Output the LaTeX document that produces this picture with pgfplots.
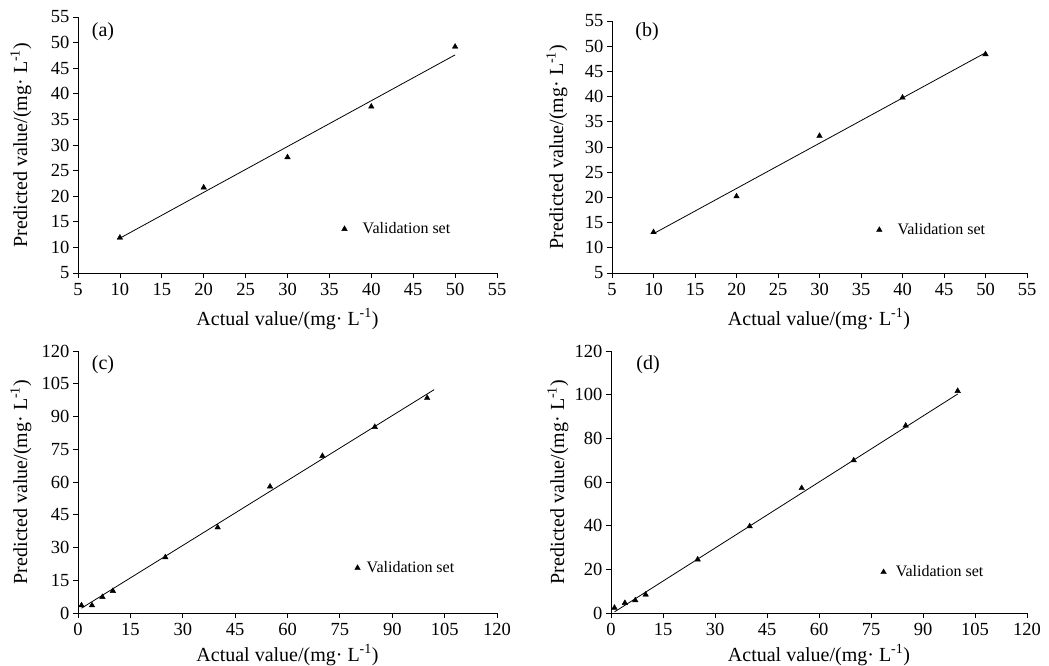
\documentclass[border=0pt]{standalone}
\usepackage{fontspec}
\setmainfont{Liberation Serif}
\usepackage{pgfplots}
\pgfplotsset{compat=1.18}

\pgfplotsset{
  panel/.style={
    scale only axis,
    anchor=south west,
    axis lines*=left,
    axis line style={line width=0.8pt, black},
    tick align=outside,
    major tick length=5pt,
    tick style={line width=0.8pt, black},
    every tick label/.append style={font=\fontsize{18.5}{18.5}\selectfont},
    xticklabel style={yshift=-2pt},
    /pgf/number format/assume math mode=true,
    clip=false,
    legend style={draw=none, fill=none, font=\fontsize{16}{16}\selectfont, anchor=west, inner sep=0pt,
      nodes={inner sep=0pt}},
    legend cell align=left,
  },
  gap/.style={legend image code/.code={\path (-3pt,0pt) (#1,0pt); \draw[##1] plot coordinates {(0pt,0pt)};}},
  pts/.style={only marks, mark=triangle*, mark size=3.2pt, black},
  fit/.style={no marks, black, line width=0.8pt, forget plot},
}

\newcommand{\xlab}{Actual value/(mg· L\textsuperscript{-1})}
\newcommand{\ylab}{Predicted value/(mg· L\textsuperscript{-1})}

\begin{document}
\begin{tikzpicture}[x=1pt,y=1pt]
\useasboundingbox (0,0) rectangle (1049,-666);

% (a)
\begin{axis}[panel, at={(78pt,-273pt)}, width=419pt, height=256pt,
  xmin=5, xmax=55, ymin=5, ymax=55,
  xtick={5,10,...,55}, ytick={5,10,...,55},
  legend style={at={(rel axis cs:0.628,0.172)}}]
\addplot[fit] coordinates {(10,11.8) (50,47.6)};
\addplot[pts, gap=18pt] coordinates {(10,11.9) (20,21.7) (30,27.6) (40,37.5) (50,49.2)};
\addlegendentry{Validation set}
\end{axis}

% (b)
\begin{axis}[panel, at={(612pt,-273pt)}, width=415pt, height=252pt,
  xmin=5, xmax=55, ymin=5, ymax=55,
  xtick={5,10,...,55}, ytick={5,10,...,55},
  legend style={at={(rel axis cs:0.636,0.171)}}]
\addplot[fit] coordinates {(10,12.8) (50,48.7)};
\addplot[pts, gap=18pt] coordinates {(10,13.1) (20,20.2) (30,32.2) (40,39.8) (50,48.4)};
\addlegendentry{Validation set}
\end{axis}

% (c)
\begin{axis}[panel, at={(78pt,-613pt)}, width=419pt, height=262pt,
  xmin=0, xmax=120, ymin=0, ymax=120,
  xtick={0,15,...,120}, ytick={0,15,...,120},
  legend style={at={(rel axis cs:0.659,0.172)}}]
\addplot[fit] coordinates {(1,2.2) (102,102.3)};
\addplot[pts, gap=9pt] coordinates {(1,3.5) (4,3.5) (7,7.3) (10,10.1) (25,25.5) (40,39.2) (55,57.9) (70,71.9) (85,85.2) (100,98.5)};
\addlegendentry{Validation set}
\end{axis}

% (d)
\begin{axis}[panel, at={(611pt,-613pt)}, width=416pt, height=262pt,
  xmin=0, xmax=120, ymin=0, ymax=120,
  xtick={0,15,...,120}, ytick={0,20,...,120},
  legend style={at={(rel axis cs:0.647,0.156)}}]
\addplot[fit] coordinates {(1,0.5) (100,100.3)};
\addplot[pts, gap=12pt] coordinates {(1,2.4) (4,4.6) (7,5.8) (10,8.4) (25,24.5) (40,39.7) (55,57.2) (70,69.9) (85,85.8) (100,101.7)};
\addlegendentry{Validation set}
\end{axis}

% axis labels and panel tags
\begin{scope}[every node/.style={font=\fontsize{20}{20}\selectfont, inner sep=0pt}]
\node at (287.5,-319) {\xlab};
\node at (819,-319) {\xlab};
\node at (287.5,-655) {\xlab};
\node at (819,-655) {\xlab};
\node[rotate=90] at (21,-145) {\ylab};
\node[rotate=90] at (557,-147) {\ylab};
\node[rotate=90] at (21,-482) {\ylab};
\node[rotate=90] at (558,-482) {\ylab};
\node at (103,-32) {(a)};
\node at (647,-32) {(b)};
\node at (103,-365) {(c)};
\node at (648,-365) {(d)};
\end{scope}
\end{tikzpicture}
\end{document}
